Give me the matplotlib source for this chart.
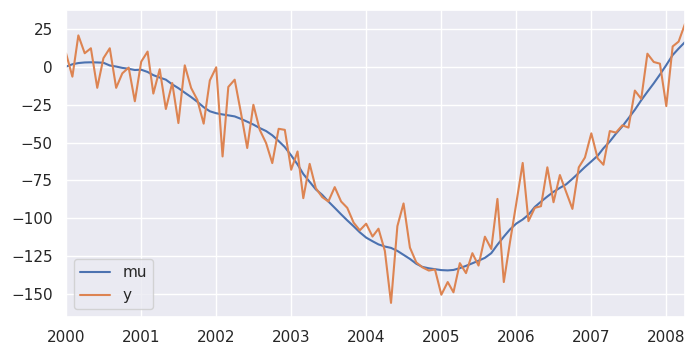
import matplotlib
matplotlib.use("Agg")
import matplotlib.pyplot as plt
import matplotlib.dates as mdates
import numpy as np
import pandas as pd
import seaborn as sns

# monthly observations, Jan 2000 .. Apr 2008
start_month = "2000-01-01"
n_months = 100

y = [
    9.0, -6.4, 20.9, 9.1, 12.4, -13.8, 5.8, 12.4, -13.8, -4.2, -0.4, -22.7,
    3.5, 10.2, -17.6, -1.5, -27.8, -10.6, -37.1, 1.1, -13.9, -21.7, -37.5, -8.9,
    -0.2, -59.2, -13.2, -8.4, -30.0, -53.6, -25.0, -41.6, -50.4, -63.6, -40.9, -41.6,
    -68.0, -55.9, -86.8, -64.1, -80.2, -86.1, -89.0, -79.5, -89.0, -93.2, -103.0, -108.1,
    -103.7, -112.2, -107.0, -121.7, -156.1, -105.3, -90.3, -119.5, -129.3, -132.6, -134.7, -134.0,
    -150.7, -142.3, -149.1, -129.8, -136.4, -123.2, -131.4, -112.3, -120.4, -87.3, -142.3, -116.0,
    -90.0, -63.5, -102.0, -93.2, -92.1, -66.4, -89.5, -71.5, -82.9, -93.9, -66.4, -59.9,
    -43.9, -60.5, -64.7, -42.4, -43.4, -38.6, -40.1, -15.6, -21.1, 8.8, 3.3, 2.2,
    -25.9, 13.6, 16.8, 28.5,
]

mu = [
    0.2, 1.8, 2.6, 3.0, 3.1, 3.0, 2.8, 1.0, 0.3, -0.6, -1.2, -2.0,
    -1.8, -3.3, -5.4, -7.0, -8.4, -11.5, -14.0, -17.0, -19.9, -23.0, -26.6, -29.3,
    -30.6, -31.4, -32.0, -32.7, -34.3, -36.2, -38.1, -40.4, -42.4, -45.2, -49.0, -53.0,
    -58.5, -64.5, -70.8, -76.0, -81.0, -84.6, -89.0, -93.2, -97.5, -101.5, -105.4, -109.4,
    -112.9, -115.3, -117.4, -118.8, -119.7, -121.7, -124.3, -127.0, -130.2, -132.3, -133.2, -133.8,
    -134.4, -134.6, -134.3, -133.1, -131.6, -129.9, -128.2, -126.3, -123.2, -117.6, -112.3, -107.5,
    -103.6, -100.9, -97.8, -92.6, -89.1, -85.7, -82.6, -80.0, -77.6, -74.0, -70.1, -66.2,
    -62.5, -58.7, -53.8, -49.3, -44.1, -39.3, -33.9, -28.3, -22.0, -16.4, -10.8, -5.0,
    1.3, 7.9, 12.2, 16.5,
]

dates = pd.date_range(start_month, periods=n_months, freq="MS")

sns.set_theme()

fig = plt.figure(figsize=(6.95, 3.56), dpi=100)
ax = fig.add_axes([0.095, 0.11, 0.8906, 0.862])

ax.plot(dates, mu, label="mu")
ax.plot(dates, y, label="y")

ax.set_xlim(dates[0], dates[-1])
ax.xaxis.set_major_locator(mdates.YearLocator())
ax.xaxis.set_major_formatter(mdates.DateFormatter("%Y"))
ax.legend(loc="lower left")

fig.savefig("out.png", dpi=100)
